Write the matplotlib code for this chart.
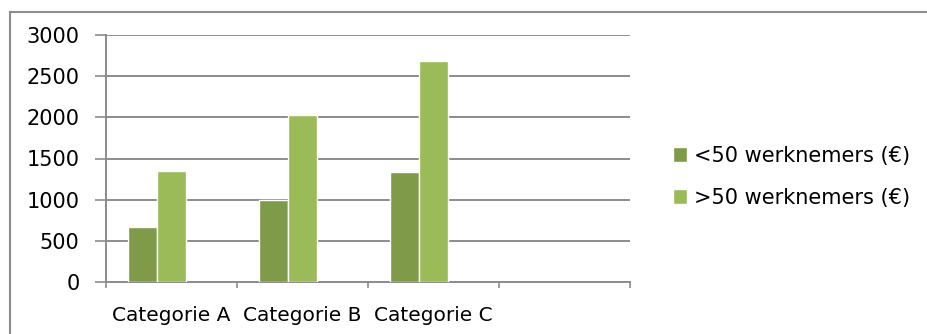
import matplotlib
matplotlib.use("Agg")
import matplotlib.pyplot as plt
from matplotlib.lines import Line2D
from matplotlib.patches import Patch
import numpy as np

categories = ["Categorie A", "Categorie B", "Categorie C", ""]
small_firms = [665, 995, 1340]
large_firms = [1345, 2030, 2680]
series_names = ["<50 werknemers (€)", ">50 werknemers (€)"]
yticks = [0, 500, 1000, 1500, 2000, 2500, 3000]

plt.rcParams['font.family'] = ['DejaVu Sans']

W, H = 928, 334
fig = plt.figure(figsize=(W / 100, H / 100), dpi=100)
ax = fig.add_axes([106 / W, 1 - 282 / H, (630 - 106) / W, (282 - 35) / H])

dark = "#7F9A48"
light = "#9BBB59"
grid = "#8C8C8C"

n = len(categories)
x = np.arange(n)
w = 0.22
ax.bar(x[:len(small_firms)] - w, small_firms, width=w, color=dark, edgecolor="white", linewidth=1, zorder=3)
ax.bar(x[:len(large_firms)], large_firms, width=w, color=light, edgecolor="white", linewidth=1, zorder=3)

ax.set_xlim(-0.5, n - 0.5)
ax.set_ylim(0, 3000)
ax.set_yticks(yticks)
ax.set_yticklabels([str(v) for v in yticks], fontsize=15)
ax.yaxis.grid(True, color=grid, linewidth=1.4, zorder=0)
ax.tick_params(axis='y', direction='out', length=8, width=1.2, color=grid, pad=11)

ax.set_xticks(np.arange(n + 1) - 0.5)
ax.set_xticklabels([])
ax.tick_params(axis='x', which='major', direction='out', length=4, width=1.2, color=grid)
ax.set_xticks(x, minor=True)
ax.set_xticklabels(categories, minor=True, fontsize=14.5)
ax.tick_params(axis='x', which='minor', length=0, pad=17)

for s in ['top', 'right']:
    ax.spines[s].set_visible(False)
for s in ['left', 'bottom']:
    ax.spines[s].set_color(grid)
    ax.spines[s].set_linewidth(1.4)

handles = [Patch(facecolor=dark, edgecolor="white"), Patch(facecolor=light, edgecolor="white")]
fig.legend(handles, series_names, loc='center left', bbox_to_anchor=(654 / W, 1 - 177 / H),
           frameon=False, fontsize=15, handlelength=0.7, handleheight=0.7,
           handletextpad=0.3, labelspacing=1.05)

# chart border (top and left visible)
fig.add_artist(Line2D([10 / W, 1], [1 - 12 / H, 1 - 12 / H], color="#8C8C8C", linewidth=1.5, transform=fig.transFigure))
fig.add_artist(Line2D([10 / W, 10 / W], [0, 1 - 12 / H], color="#8C8C8C", linewidth=1.5, transform=fig.transFigure))

fig.savefig("out.png", dpi=100)
